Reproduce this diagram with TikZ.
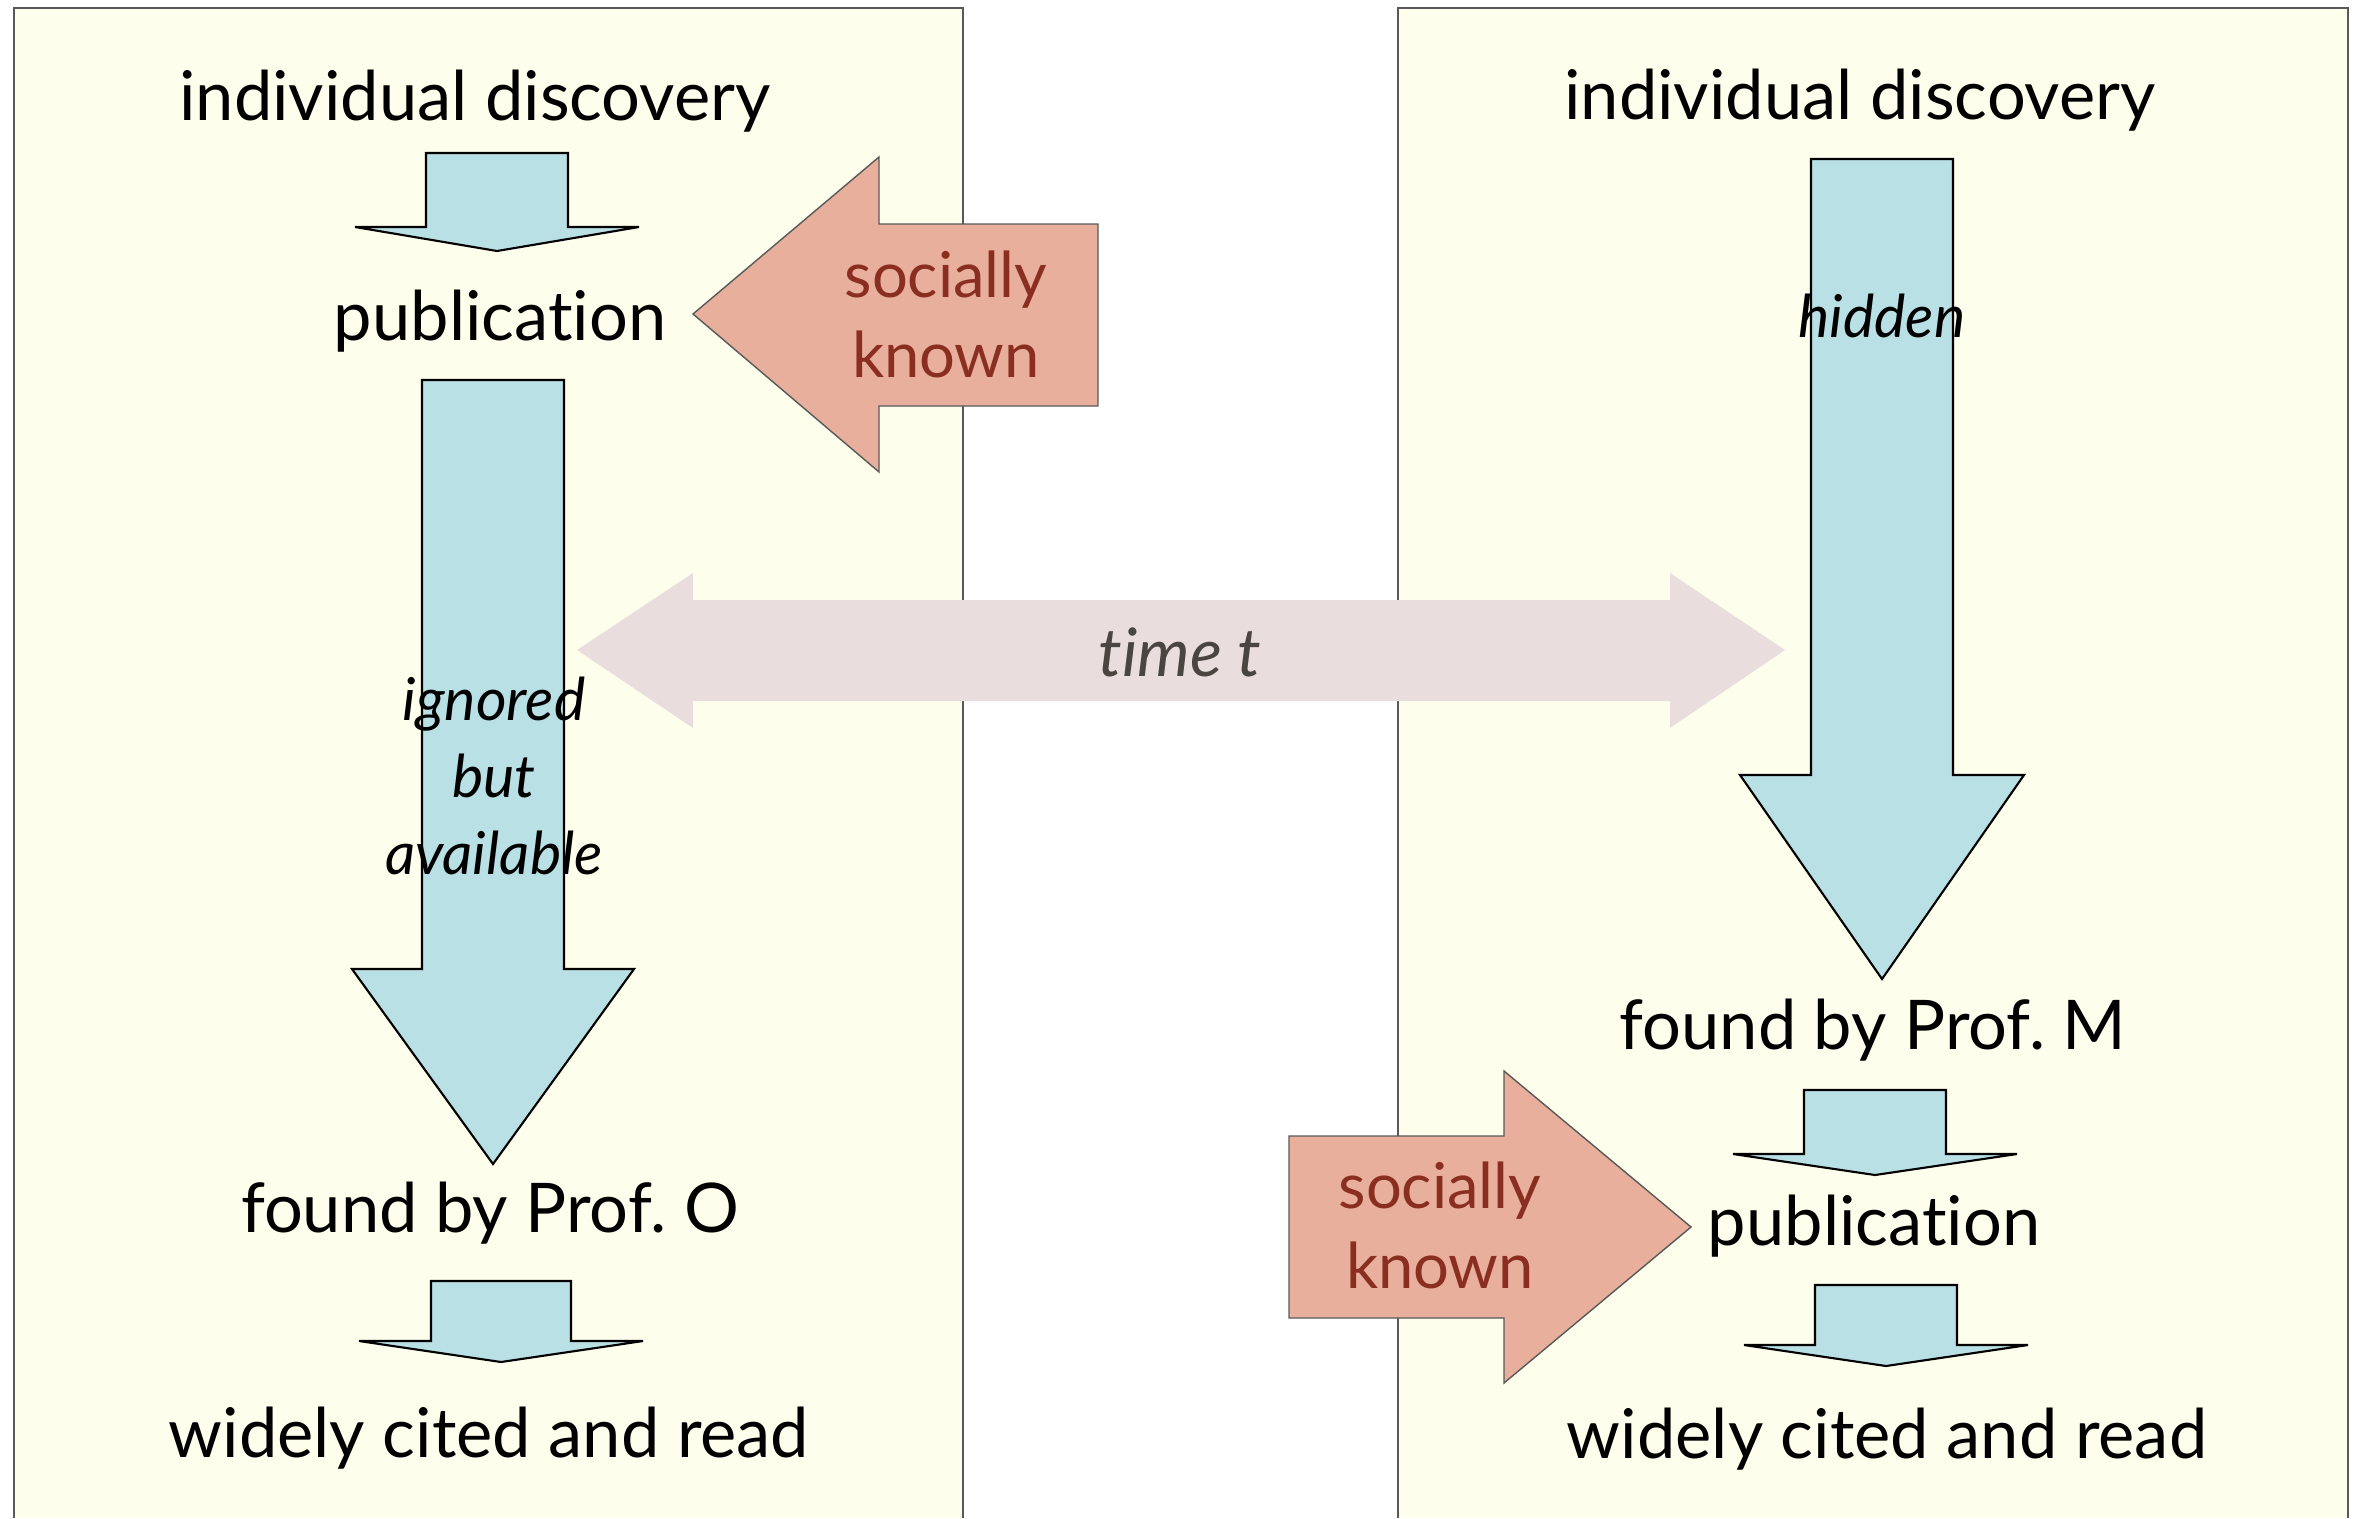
\documentclass[tikz,border=0pt]{standalone}
\usepackage{fontspec}
\setmainfont{Lato}[Ligatures=NoCommon]
\frenchspacing
\usetikzlibrary{positioning}

\definecolor{panelbg}{RGB}{254,254,236}
\definecolor{flowblue}{RGB}{185,224,228}
\definecolor{salmon}{RGB}{232,176,156}
\definecolor{socialred}{RGB}{138,46,34}
\definecolor{timepink}{RGB}{234,221,221}
\definecolor{timegray}{RGB}{74,69,64}

% down block arrow: x, top, head base, tip, shaft half width, head half width
\newcommand\downblock[6]{%
  \draw[flow] (#1-#5,#2) -- (#1+#5,#2) -- (#1+#5,#3) -- (#1+#6,#3) -- (#1,#4)
    -- (#1-#6,#3) -- (#1-#5,#3) -- cycle;}

\begin{document}
\begin{tikzpicture}[x=0.01cm, y=-0.01cm, panel/.style={fill=panelbg}, frame/.style={draw=black!65, line width=0.4pt}, flow/.style={draw=black, line width=0.6pt, fill=flowblue}, social/.style={draw=black!65, line width=0.4pt, fill=salmon}, stage/.style={font=\fontsize{19.5}{23}\selectfont, inner sep=0pt, anchor=base}, socialtext/.style={font=\fontsize{18}{22.8}\selectfont, text=socialred, align=center, inner sep=0pt}, note/.style={font=\fontsize{16.8}{22}\selectfont\itshape, align=center, inner sep=0pt}]
\useasboundingbox (0,0) rectangle (2355,1518);

% panels
\path[panel] (14,8) rectangle (963,1518);
\path[panel] (1398,8) rectangle (2348,1518);
\draw[frame] (14,1518) -- (14,8) -- (963,8) -- (963,1518);
\draw[frame] (1398,1518) -- (1398,8) -- (2348,8) -- (2348,1518);

% time arrow
\fill[timepink] (577,650) -- (693,573) -- (693,600) -- (1670,600) -- (1670,573) -- (1785,650)
  -- (1670,728) -- (1670,701) -- (693,701) -- (693,728) -- cycle;

% left column
\downblock{497}{153}{227}{251}{71}{142}
\downblock{493}{380}{969}{1164}{71}{141}
\downblock{501}{1281}{1341}{1362}{70}{142}
\draw[social] (693,314) -- (879,157) -- (879,224) -- (1098,224) -- (1098,406) -- (879,406) -- (879,472) -- cycle;

% right column
\downblock{1882}{159}{775}{979}{71}{142}
\downblock{1875}{1090}{1154}{1175}{71}{142}
\downblock{1886}{1285}{1345}{1366}{71}{142}
\draw[social] (1289,1136) -- (1504,1136) -- (1504,1071) -- (1691,1227) -- (1504,1383) -- (1504,1318) -- (1289,1318) -- cycle;

\node[stage] (disc1) at (475,120) {individual discovery};
\node[stage] (pub1) at (500,340) {publication};
\node[note] (ignored) at (494,776) {ignored\\but\\available};
\node[stage] (found1) at (490,1232) {found by Prof. O};
\node[stage] (cited1) at (489,1457) {widely cited and read};
\node[socialtext] (soc1) at (946,314) {socially\\known};

\node[stage] (disc2) at (1860,119) {individual discovery};
\node[note, anchor=base] (hidden) at (1882,337) {hidden};
\node[stage] (found2) at (1873,1049) {found by Prof. M};
\node[stage] (pub2) at (1874,1245) {publication};
\node[stage] (cited2) at (1887,1458) {widely cited and read};
\node[socialtext] (soc2) at (1440,1225) {socially\\known};

\node[note, font=\fontsize{19}{22}\selectfont\itshape, text=timegray, anchor=base] (time) at (1180,676) {time t};
\end{tikzpicture}
\end{document}
